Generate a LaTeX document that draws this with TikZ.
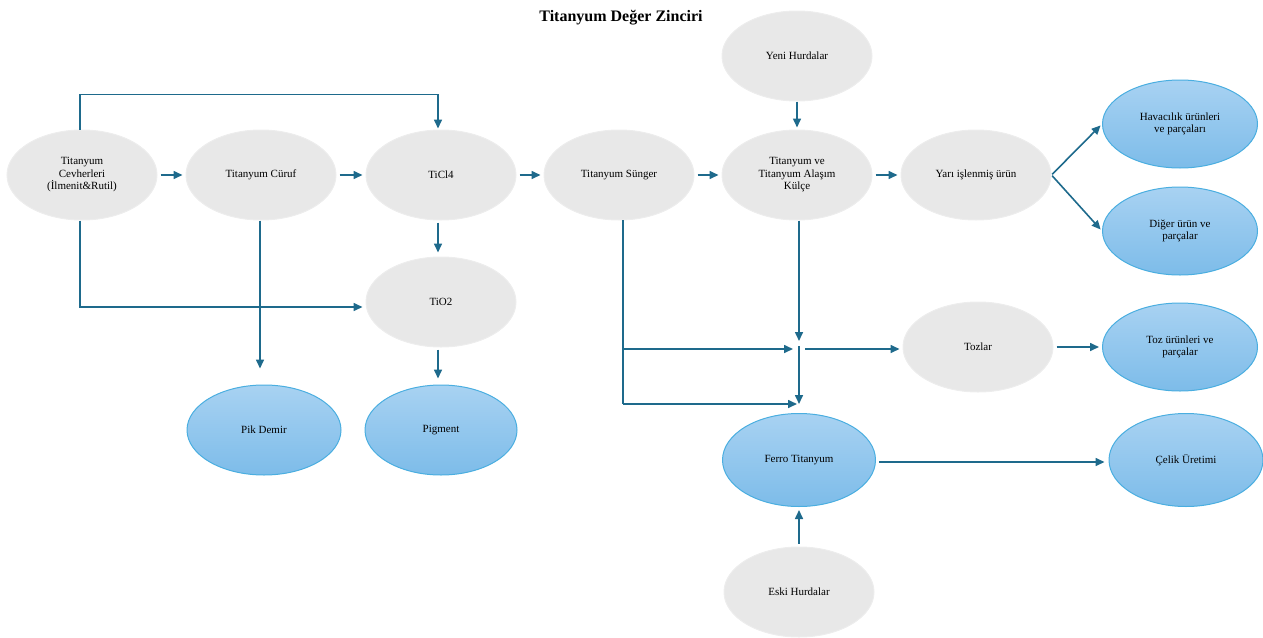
\documentclass[tikz,border=0pt]{standalone}
\usepackage{fontspec}
\setmainfont{Liberation Serif}
\usetikzlibrary{shapes.geometric,arrows.meta}
\definecolor{grayfill}{HTML}{E8E8E8}
\definecolor{grayline}{HTML}{EDEDED}
\definecolor{bluetop}{HTML}{A8D2F2}
\definecolor{bluebot}{HTML}{7DBCE9}
\definecolor{blueline}{HTML}{4AAEE0}
\definecolor{arrcol}{HTML}{1E6A8C}
\tikzset{
  base/.style={ellipse, minimum width=150pt, minimum height=90pt, inner sep=0pt,
    align=center, font=\fontsize{11}{12.5}\selectfont},
  grayel/.style={base, fill=grayfill, draw=grayline, line width=1pt},
  blueel/.style={base, top color=bluetop, bottom color=bluebot, draw=blueline, line width=1pt},
  arr/.style={draw=arrcol, line width=1.6pt, -{Triangle[length=9pt,width=8pt]}},
  ln/.style={draw=arrcol, line width=1.6pt}
}
\begin{document}
\begin{tikzpicture}[x=1pt,y=-1pt]
\useasboundingbox (0,0) rectangle (1263,637);
\node[font=\fontsize{16}{18}\selectfont\bfseries] (title) at (621,18) {Titanyum Değer Zinciri};

\node[grayel] (ore) at (82,175) {Titanyum\\Cevherleri\\(İlmenit\&Rutil)};
\node[grayel] (curuf) at (261,175) {Titanyum Cüruf};
\node[grayel] (ticl) at (441,175) {TiCl4};
\node[grayel] (sunger) at (619,175) {Titanyum Sünger};
\node[grayel] (kulce) at (797,175) {Titanyum ve\\Titanyum Alaşım\\Külçe};
\node[grayel] (yari) at (976,175) {Yarı işlenmiş ürün};
\node[grayel] (yeni) at (797,56) {Yeni Hurdalar};
\node[blueel, minimum width=155pt, minimum height=88pt] (hav) at (1180,124) {Havacılık ürünleri\\ve parçaları};
\node[blueel, minimum width=155pt, minimum height=88pt] (dig) at (1180,231) {Diğer ürün ve\\parçalar};
\node[grayel] (tio) at (441,302) {TiO2};
\node[blueel, minimum width=154pt] (pik) at (264,430) {Pik Demir};
\node[blueel, minimum width=152pt] (pig) at (441,430) {Pigment};
\node[grayel] (tozlar) at (978,347) {Tozlar};
\node[blueel, minimum width=155pt, minimum height=88pt] (toz) at (1180,347) {Toz ürünleri ve\\parçalar};
\node[blueel, minimum width=153pt, minimum height=93pt] (ferro) at (799,460) {Ferro Titanyum};
\node[blueel, minimum width=154pt, minimum height=93pt] (celik) at (1186,460) {Çelik Üretimi};
\node[grayel] (eski) at (799,592) {Eski Hurdalar};

\coordinate (j) at (799,349);
\coordinate (jtop) at (799,346);
\coordinate (jr) at (805,349);
\coordinate (s) at (623,220);
\coordinate (sb) at (623,404);
\coordinate (fe) at (799,404);

% main chain
\draw[arr, shorten <=3pt, shorten >=3pt] (ore.east) -- (curuf.west);
\draw[arr, shorten <=3pt, shorten >=3pt] (curuf.east) -- (ticl.west);
\draw[arr, shorten <=3pt, shorten >=3pt] (ticl.east) -- (sunger.west);
\draw[arr, shorten <=3pt, shorten >=3pt] (sunger.east) -- (kulce.west);
\draw[arr, shorten <=3pt, shorten >=3pt] (kulce.east) -- (yari.west);
\draw[arr, shorten <=1pt, shorten >=2pt] (yari.east) -- (hav.west);
\draw[arr, shorten <=1pt, shorten >=2pt] (yari.east) -- (dig.west);
\draw[arr, shorten >=2pt] (yeni.south) -- (kulce.north);

% top loop
\draw[arr, shorten >=1pt] ([xshift=-2pt]ore.north) -- ++(0,-35) -| ([xshift=-3pt]ticl.north);
% TiCl4 -> TiO2 -> Pigment
\draw[arr, shorten <=2pt, shorten >=4pt] ([xshift=-3pt]ticl.south) -- ([xshift=-3pt]tio.north);
\draw[arr, shorten <=2pt, shorten >=6pt] ([xshift=-3pt]tio.south) -- ([xshift=-3pt]pig.north);
% Ore -> TiO2
\draw[arr, shorten >=3pt] ([xshift=-2pt]ore.south) |- ([yshift=-5pt]tio.west);
% Curuf -> Pik Demir
\draw[arr, shorten >=16pt] ([xshift=-1pt]curuf.south) -- ([xshift=-4pt]pik.north);

% Sunger branches
\draw[ln] (s) -- (sb);
\draw[arr, shorten >=6pt] (s |- j) -- (j);
\draw[arr, shorten >=2pt] (sb) -- (fe);
% Kulce down to junction
\draw[arr, shorten >=8pt] ([xshift=2pt]kulce.south) -- (j);
\draw[arr] (jtop) -- (fe);
\draw[arr, shorten >=3pt] (jr) -- (jr -| tozlar.west);
\draw[arr, shorten <=3pt, shorten >=3pt] (tozlar.east) -- (toz.west);

% Ferro
\draw[arr, shorten <=3pt, shorten >=4pt] ([yshift=-2pt]ferro.east) -- ([yshift=-2pt]celik.west);
\draw[arr, shorten <=3pt, shorten >=3pt] (eski.north) -- (ferro.south);
\end{tikzpicture}
\end{document}
